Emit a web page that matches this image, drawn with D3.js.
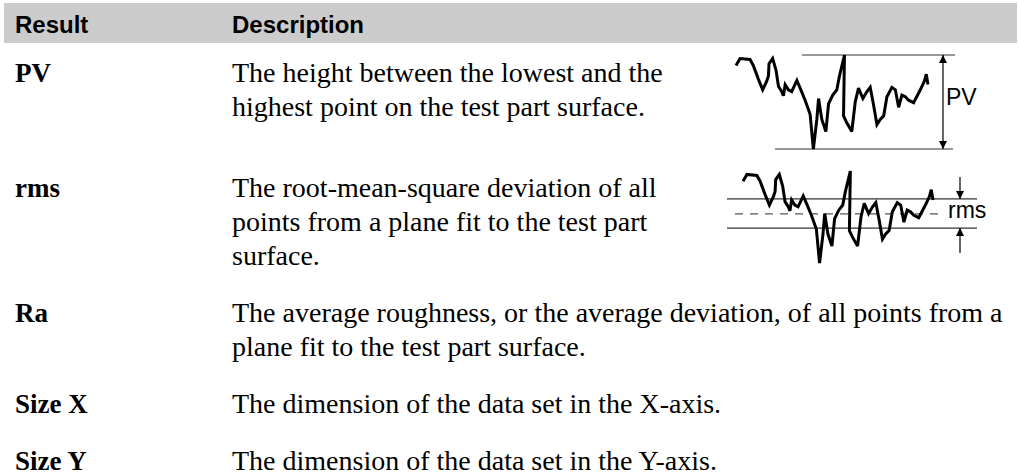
<!DOCTYPE html>
<html>

<head>
    <meta charset="utf-8">
    <title>Surface results</title>
    <script src="https://cdn.jsdelivr.net/npm/d3@7"></script>
    <style>
        body { margin: 0; background: #fff; }
    </style>
</head>

<body>
<script>
    var headers = ['Result', 'Description'];
    var results = ['PV', 'rms', 'Ra', 'Size X', 'Size Y'];
    var descriptions = [
        ['The height between the lowest and the', 'highest point on the test part surface.'],
        ['The root-mean-square deviation of all', 'points from a plane fit to the test part', 'surface.'],
        ['The average roughness, or the average deviation, of all points from a', 'plane fit to the test part surface.'],
        ['The dimension of the data set in the X-axis.'],
        ['The dimension of the data set in the Y-axis.']
    ];
    // the little surface profile, position along the part (0-100) and height (0-100)
    var profileX = [0, 2.1, 7.3, 9.0, 11.7, 13.9, 16.0, 16.9, 17.2, 19.1, 20.9, 22.1, 23.8, 24.7, 25.6, 27.3, 29.0,
        31.7, 33.4, 36.0, 38.6, 40.3, 42.1, 43.0, 44.7, 46.8, 48.2, 50.4, 52.5, 53.9, 56.5, 56.0, 57.7, 60.3,
        62.1, 63.8, 66.1, 68.2, 69.9, 71.7, 73.4, 75.1, 76.9, 78.6, 81.2, 83.0, 84.7, 86.4, 88.2, 89.9, 92.5,
        96.0, 98.1, 99.1, 100];
    var profileH = [88.9, 96.3, 95.2, 88.9, 74.1, 63.0, 72.2, 77.8, 90.7, 96.3, 83.3, 66.7, 61.1, 56.7, 68.5, 63.0, 61.1,
        73.0, 64.8, 51.9, 37.0, 0, 31.5, 53.7, 31.5, 18.5, 48.1, 57.4, 63.0, 77.8, 100, 35.2, 27.8, 18.5,
        50.0, 64.8, 53.7, 61.1, 65.6, 46.3, 25.9, 31.5, 35.2, 55.6, 65.6, 63.0, 44.4, 57.4, 55.6, 51.9, 49.3,
        63.0, 72.2, 79.6, 68.5];
    // rms band: upper, mean, lower (same units as profileH)
    var rmsLevels = [69.6, 53.3, 38.0];

    var width = 1019,
        height = 476,
        colX = [15, 232],
        firstBase = 82,
        lineH = 34,
        gap = 23,
        diagH = 92;

    var svg = d3.select('body')
        .append('svg')
        .attr('width', width)
        .attr('height', height)
        .style('display', 'block');

    var defs = svg.append('defs');
    defs.append('marker')
        .attr('id', 'head')
        .attr('viewBox', '0 0 10 10')
        .attr('refX', 10)
        .attr('refY', 5)
        .attr('markerUnits', 'userSpaceOnUse')
        .attr('markerWidth', 9)
        .attr('markerHeight', 8)
        .attr('orient', 'auto-start-reverse')
        .append('path')
        .attr('d', 'M0,0L10,5L0,10Z')
        .attr('fill', '#000');

    // header band
    svg.append('rect')
        .attr('x', 4)
        .attr('y', 3)
        .attr('width', 1013)
        .attr('height', 40)
        .attr('fill', '#cccccc');

    svg.selectAll('text.head')
        .data(headers)
        .enter()
        .append('text')
        .attr('class', 'head')
        .attr('x', function(d, i) { return colX[i]; })
        .attr('y', 33)
        .attr('font-family', 'Liberation Sans, Arial, sans-serif')
        .attr('font-weight', 'bold')
        .attr('font-size', '24px')
        .text(function(d) { return d; });

    // row baselines from the number of text lines
    var bases = [];
    var y0 = firstBase;
    results.forEach(function(r, i) {
        bases.push(y0);
        var h = descriptions[i].length * lineH;
        if (i < 2) h = Math.max(h, diagH);
        y0 += h + gap;
    });

    var rows = svg.selectAll('g.row')
        .data(results)
        .enter()
        .append('g')
        .attr('class', 'row')
        .attr('transform', function(d, i) { return 'translate(0,' + bases[i] + ')'; });

    rows.append('text')
        .attr('x', colX[0])
        .attr('y', 0)
        .attr('font-family', 'Liberation Serif, Times New Roman, serif')
        .attr('font-weight', 'bold')
        .attr('font-size', '27px')
        .text(function(d) { return d; });

    rows.each(function(d, i) {
        d3.select(this).selectAll('text.desc')
            .data(descriptions[i])
            .enter()
            .append('text')
            .attr('class', 'desc')
            .attr('x', colX[1])
            .attr('y', function(t, j) { return j * lineH; })
            .attr('font-family', 'Liberation Serif, Times New Roman, serif')
            .attr('font-size', '28px')
            .text(function(t) { return t; });
    });

    function drawProfile(g, x, y) {
        var line = d3.line()
            .x(function(d, i) { return x(profileX[i]); })
            .y(function(d, i) { return y(profileH[i]); });
        g.append('path')
            .datum(profileH)
            .attr('d', line)
            .attr('fill', 'none')
            .attr('stroke', '#000')
            .attr('stroke-width', 3)
            .attr('stroke-linejoin', 'miter')
            .attr('stroke-miterlimit', 3);
    }

    function thin(g, x1, x2, y1, y2) {
        return g.append('line')
            .attr('x1', x1).attr('x2', x2)
            .attr('y1', y1).attr('y2', y2)
            .attr('stroke', '#333')
            .attr('stroke-width', 1.2);
    }

    // PV sketch
    var gPV = svg.append('g');
    var xPV = d3.scaleLinear().domain([0, 100]).range([736, 928]);
    var yPV = d3.scaleLinear().domain([0, 100]).range([bases[0] + 67, bases[0] - 27]);
    thin(gPV, 802, 955, yPV(100), yPV(100));
    thin(gPV, 775, 953, yPV(0), yPV(0));
    drawProfile(gPV, xPV, yPV);
    thin(gPV, 943, 943, yPV(100), yPV(0))
        .attr('stroke', '#000')
        .attr('marker-start', 'url(#head)')
        .attr('marker-end', 'url(#head)');
    gPV.append('text')
        .attr('x', 946)
        .attr('y', bases[0] + 23)
        .attr('font-family', 'Liberation Sans, Arial, sans-serif')
        .attr('font-size', '23px')
        .text('PV');

    // rms sketch
    var gR = svg.append('g');
    var xR = d3.scaleLinear().domain([0, 100]).range([743, 933]);
    var yR = d3.scaleLinear().domain([0, 100]).range([bases[1] + 66, bases[1] - 26]);
    thin(gR, 727, 977, yR(rmsLevels[0]), yR(rmsLevels[0]));
    thin(gR, 735, 940, yR(rmsLevels[1]), yR(rmsLevels[1]))
        .attr('stroke', '#555')
        .attr('stroke-dasharray', '8,7');
    thin(gR, 727, 977, yR(rmsLevels[2]), yR(rmsLevels[2]));
    drawProfile(gR, xR, yR);
    thin(gR, 960, 960, bases[1] - 20, yR(rmsLevels[0]))
        .attr('stroke', '#000')
        .attr('marker-end', 'url(#head)');
    thin(gR, 960, 960, bases[1] + 56, yR(rmsLevels[2]))
        .attr('stroke', '#000')
        .attr('marker-end', 'url(#head)');
    gR.append('text')
        .attr('x', 948)
        .attr('y', bases[1] + 21)
        .attr('font-family', 'Liberation Sans, Arial, sans-serif')
        .attr('font-size', '23px')
        .text('rms');
</script>
</body>

</html>
